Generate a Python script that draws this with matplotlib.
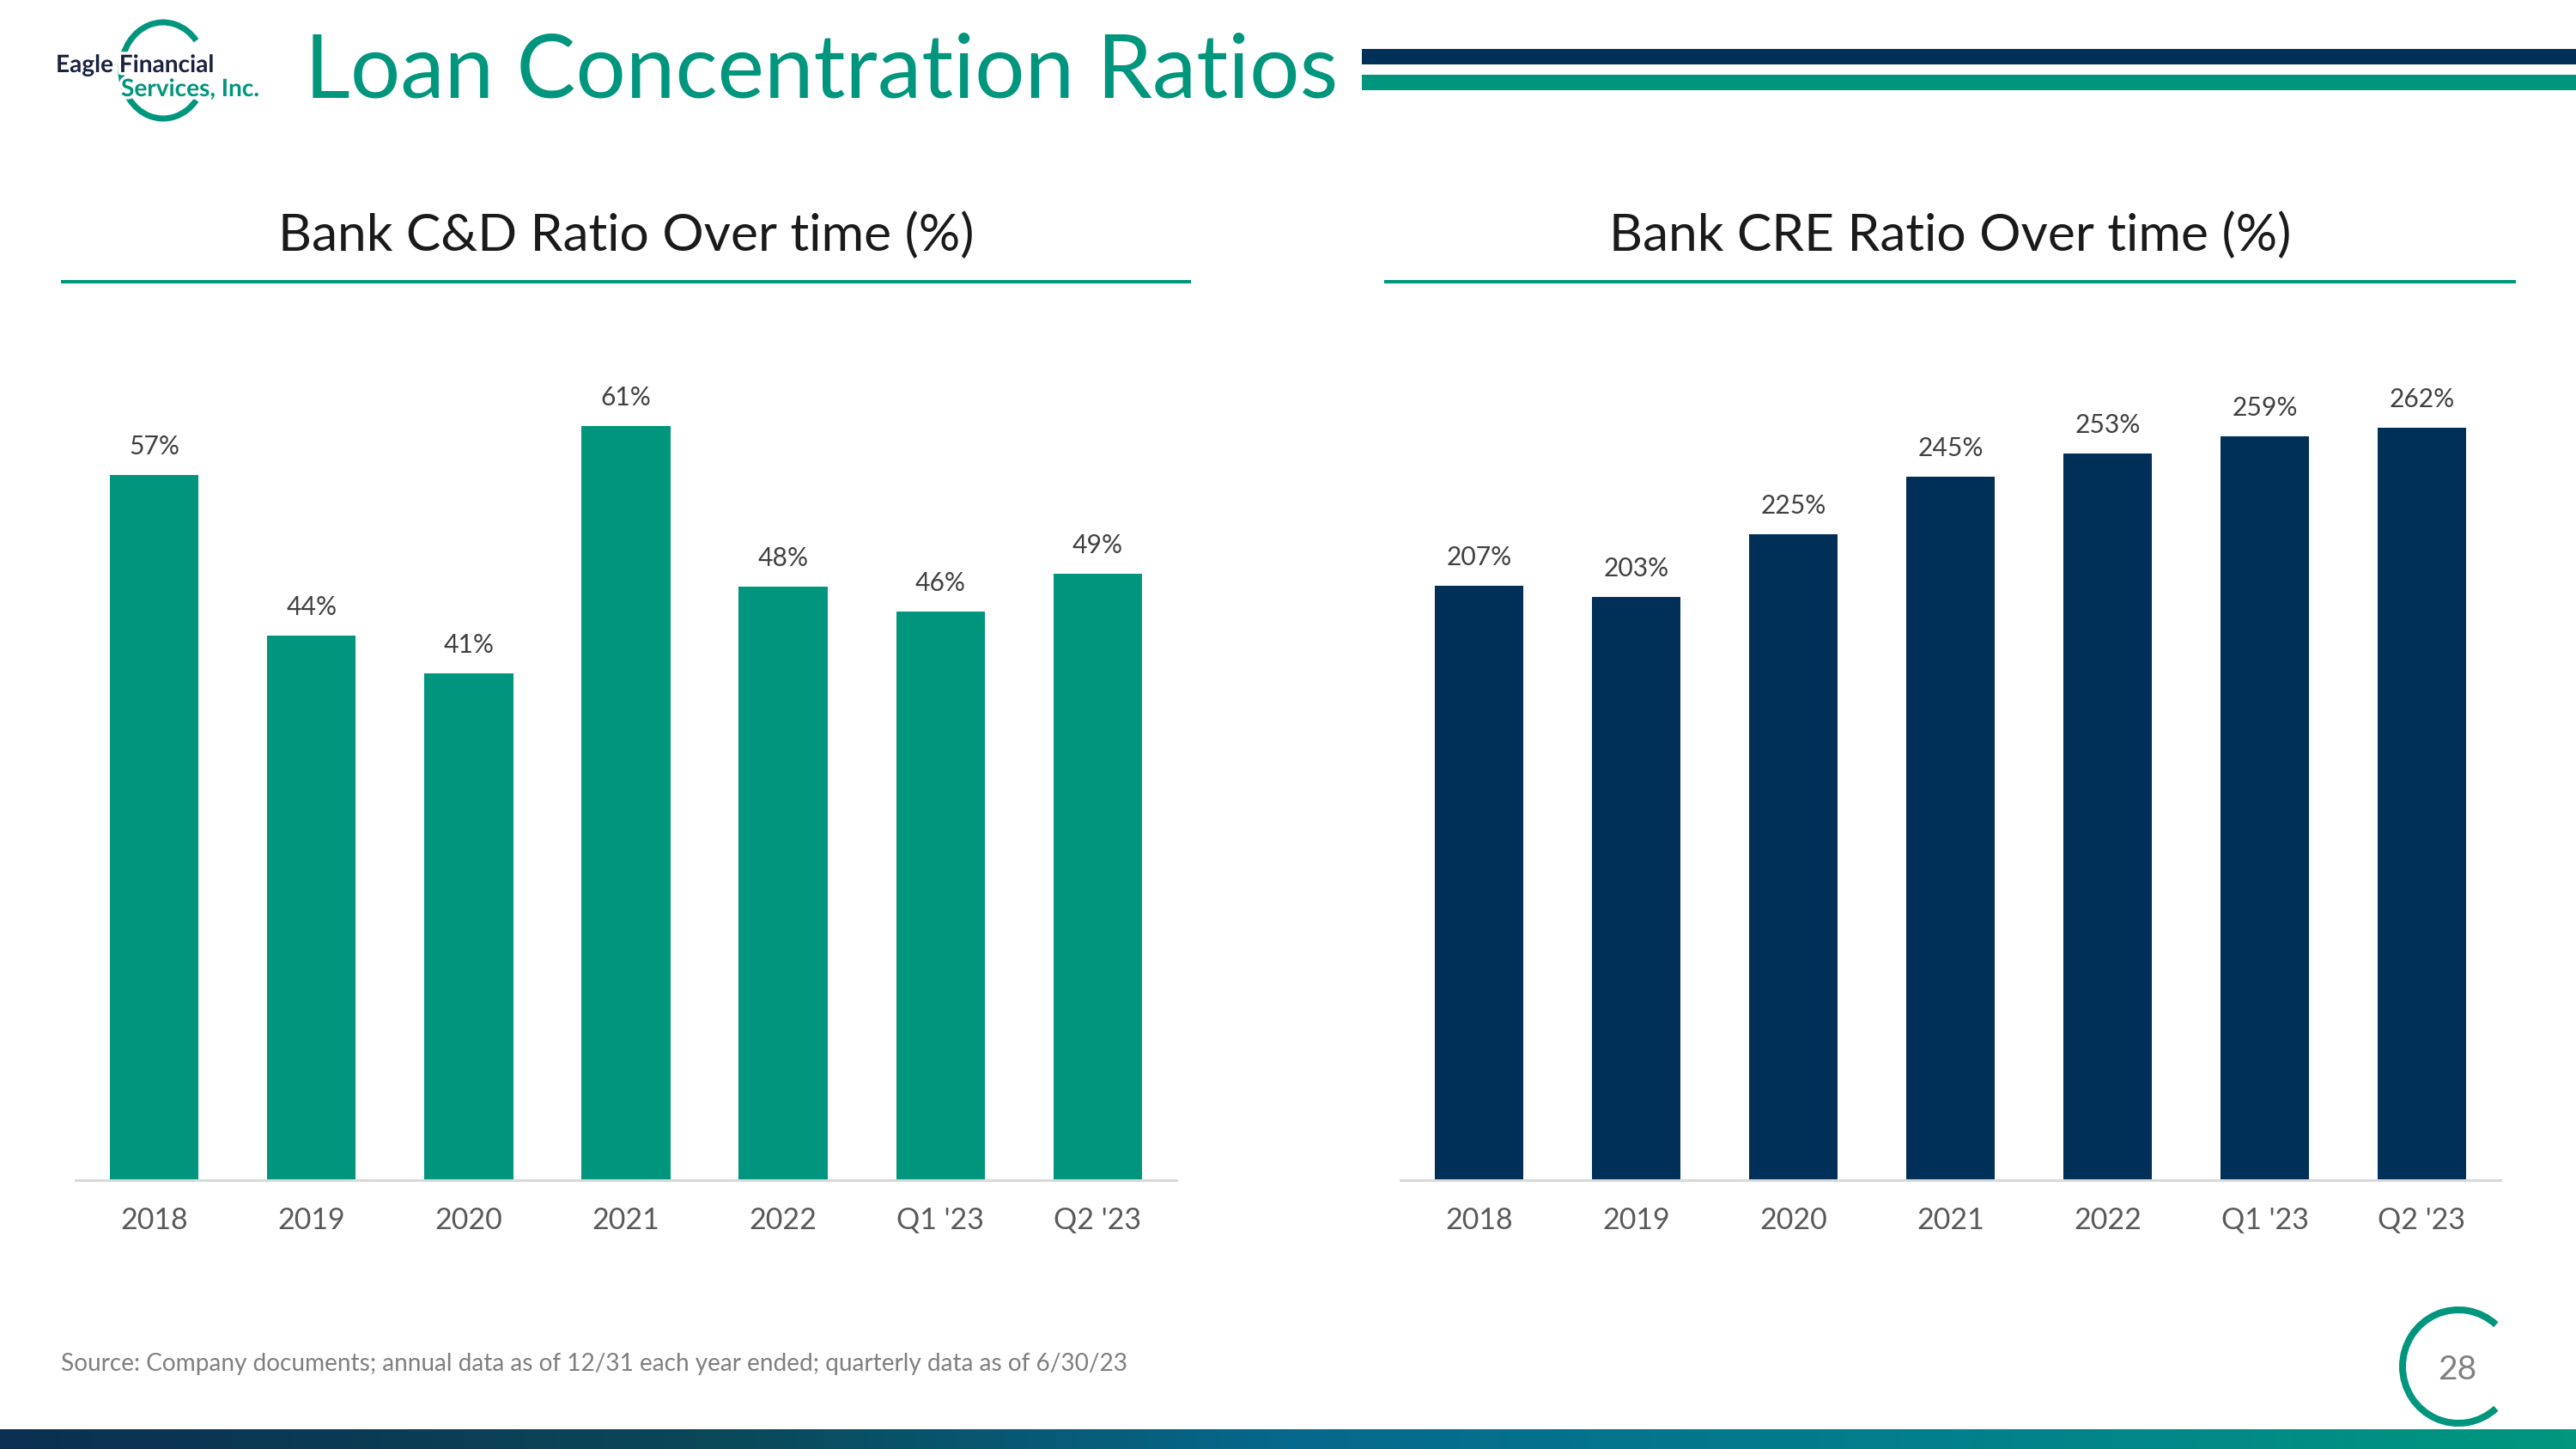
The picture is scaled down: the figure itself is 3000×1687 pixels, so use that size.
import numpy as np
import matplotlib
matplotlib.use("Agg")
import matplotlib.pyplot as plt
from matplotlib.patches import Arc, Rectangle
from matplotlib.colors import LinearSegmentedColormap
import matplotlib.patheffects as pe

# ---------------- data ----------------
categories = ["2018", "2019", "2020", "2021", "2022", "Q1 '23", "Q2 '23"]
cd_ratio = [57, 44, 41, 61, 48, 46, 49]
cre_ratio = [207, 203, 225, 245, 253, 259, 262]

title = "Loan Concentration Ratios"
left_title = "Bank C&D Ratio Over time (%)"
right_title = "Bank CRE Ratio Over time (%)"
source = "Source: Company documents; annual data as of 12/31 each year ended; quarterly data as of 6/30/23"
page_no = "28"

# ---------------- style ----------------
TEAL = "#00967D"
NAVY = "#003057"
LOGO_NAVY = "#1B2140"
FONT = ["Lato", "DejaVu Sans"]
plt.rcParams["font.family"] = FONT

W, H = 3000, 1687
DPI = 100
PT = 72 / DPI  # points per pixel

fig = plt.figure(figsize=(W / DPI, H / DPI), dpi=DPI, facecolor="white")

# background axes in pixel coordinates
bg = fig.add_axes([0, 0, 1, 1], zorder=0)
bg.set_xlim(0, W)
bg.set_ylim(H, 0)
bg.axis("off")

# bottom gradient band
grad = LinearSegmentedColormap.from_list(
    "band", [(0.0, "#0B2F50"), (0.28, "#0A4858"), (0.5, "#06688C"),
             (0.75, "#037F8C"), (1.0, "#00977E")])
bg.imshow(np.linspace(0, 1, 512)[None, :], cmap=grad, aspect="auto",
          extent=[0, W, 1687, 1664], zorder=1)
bg.set_xlim(0, W)
bg.set_ylim(H, 0)

# top right stripes
bg.add_patch(Rectangle((1586, 57), W - 1586, 18, color=NAVY, lw=0))
bg.add_patch(Rectangle((1586, 87), W - 1586, 18, color=TEAL, lw=0))

# title
bg.text(355, 84, title, color=TEAL, fontsize=103 * PT, va="center", ha="left")

# logo
bg.add_patch(Arc((190, 82), 98, 112, theta1=42, theta2=318,
                 color=TEAL, lw=7 * PT, zorder=2))
white_edge = [pe.withStroke(linewidth=5, foreground="white")]
bg.text(65, 76, "Eagle Financial", color=LOGO_NAVY, fontsize=28 * PT,
        fontweight="bold", va="center", ha="left", zorder=3,
        path_effects=white_edge)
bg.text(141, 104, "Services, Inc.", color=TEAL, fontsize=28 * PT,
        fontweight="bold", va="center", ha="left", zorder=3,
        path_effects=white_edge)

# subtitles + underlines
bg.text(729, 274, left_title, color="#1A1A1A", fontsize=60.5 * PT,
        ha="center", va="center")
bg.text(2271, 274, right_title, color="#1A1A1A", fontsize=60.5 * PT,
        ha="center", va="center")
bg.plot([71, 1387], [328, 328], color=TEAL, lw=4 * PT, solid_capstyle="butt")
bg.plot([1612, 2930], [328, 328], color=TEAL, lw=4 * PT, solid_capstyle="butt")

# source
bg.text(71, 1588, source, color="#7F7F7F", fontsize=28 * PT,
        ha="left", va="center")

# page number with open circle
bg.add_patch(Arc((2863, 1591), 130, 132, theta1=48, theta2=312,
                 color=TEAL, lw=8 * PT))
bg.text(2862, 1595, page_no, color="#808080", fontsize=39 * PT,
        ha="center", va="center")


def bar_chart(rect, values, color, ymax):
    ax = fig.add_axes(rect, zorder=2)
    ax.patch.set_alpha(0)
    x = np.arange(len(categories))
    bars = ax.bar(x, values, width=0.565, color=color, zorder=2)
    ax.set_xlim(-0.5, len(categories) - 0.5)
    ax.set_ylim(0, ymax)
    for s in ("top", "left", "right"):
        ax.spines[s].set_visible(False)
    ax.spines["bottom"].set_color("#D9D9D9")
    ax.spines["bottom"].set_linewidth(3 * PT)
    ax.set_yticks([])
    ax.set_xticks(x)
    ax.set_xticklabels(categories, color="#595959", fontsize=34 * PT)
    ax.tick_params(axis="x", length=0, pad=22)
    for b, v in zip(bars, values):
        ax.annotate(f"{v}%", (b.get_x() + b.get_width() / 2, v),
                    xytext=(0, 33 * PT), textcoords="offset points",
                    ha="center", va="center", color="#404040",
                    fontsize=30 * PT, annotation_clip=False)
    return ax


bottom = (H - 1374) / H
height = 1000 / H
bar_chart([88 / W, bottom, 1282 / W, height], cd_ratio, TEAL, 1000 / 14.40)
bar_chart([1631 / W, bottom, 1281 / W, height], cre_ratio, NAVY, 1000 / 3.343)

fig.savefig("out.png", dpi=DPI, facecolor="white")
